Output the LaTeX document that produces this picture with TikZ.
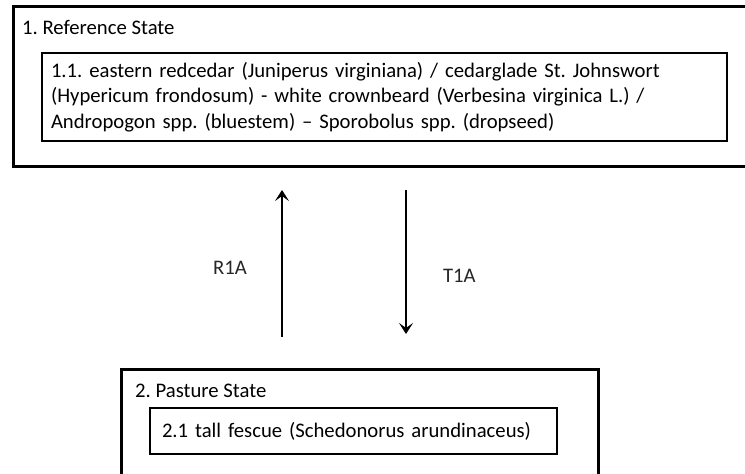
\documentclass[tikz,border=0pt]{standalone}
\usepackage{fontspec}
\setmainfont{Carlito}
\usetikzlibrary{positioning,arrows.meta}
\frenchspacing

\begin{document}
\begin{tikzpicture}[x=1pt,y=-1pt,
  statebox/.style={draw,line width=3pt,inner sep=0pt,outer sep=0pt,anchor=north west},
  phasebox/.style={draw,line width=2pt,outer sep=0pt,anchor=north west,align=left,inner xsep=9pt,inner ysep=0pt,font=\fontsize{20.7}{25.5}\selectfont},
  statetitle/.style={anchor=west,inner sep=0pt,font=\fontsize{20.7}{22}\selectfont},
  trans/.style={line width=2.2pt,-{Stealth[length=11pt,width=14pt,inset=5pt]}},
  translabel/.style={font=\fontsize{20.7}{22}\selectfont,text=black!85,inner sep=0pt}]
\path[use as bounding box] (0,0) rectangle (745,474);
% reference state
\node[statebox,minimum width=736pt,minimum height=160pt] (ref) at (13,6) {};
\node[statetitle] (reftitle) at (22,27) {1. Reference State};
\node[phasebox,text width=667pt,minimum height=88pt] (ref11) at (42,53)
  {1.1. eastern redcedar (Juniperus virginiana) / cedarglade St. Johnswort\\
   (Hypericum frondosum) - white crownbeard (Verbesina virginica L.) /\\
   Andropogon spp. (bluestem) -- Sporobolus spp. (dropseed)};
% pasture state
\node[statebox,minimum width=477pt,minimum height=112pt] (past) at (121,369) {};
\node[statetitle] (pasttitle) at (135,391) {2. Pasture State};
\node[phasebox,text width=383pt,inner xsep=12pt,minimum height=46pt] (past21) at (150,408)
  {2.1 tall fescue (Schedonorus arundinaceus)};
% transitions
\coordinate (upx) at (282,0);
\coordinate (downx) at (406,0);
\draw[trans,shorten <=32pt,shorten >=24pt] (upx |- past.north) -- node[translabel,left=34pt] (r1a) {R1A} (upx |- ref.south);
\draw[trans,shorten <=24pt,shorten >=35pt] (downx |- ref.south) -- node[translabel,right=36pt,pos=.54] (t1a) {T1A} (downx |- past.north);
\end{tikzpicture}
\end{document}
